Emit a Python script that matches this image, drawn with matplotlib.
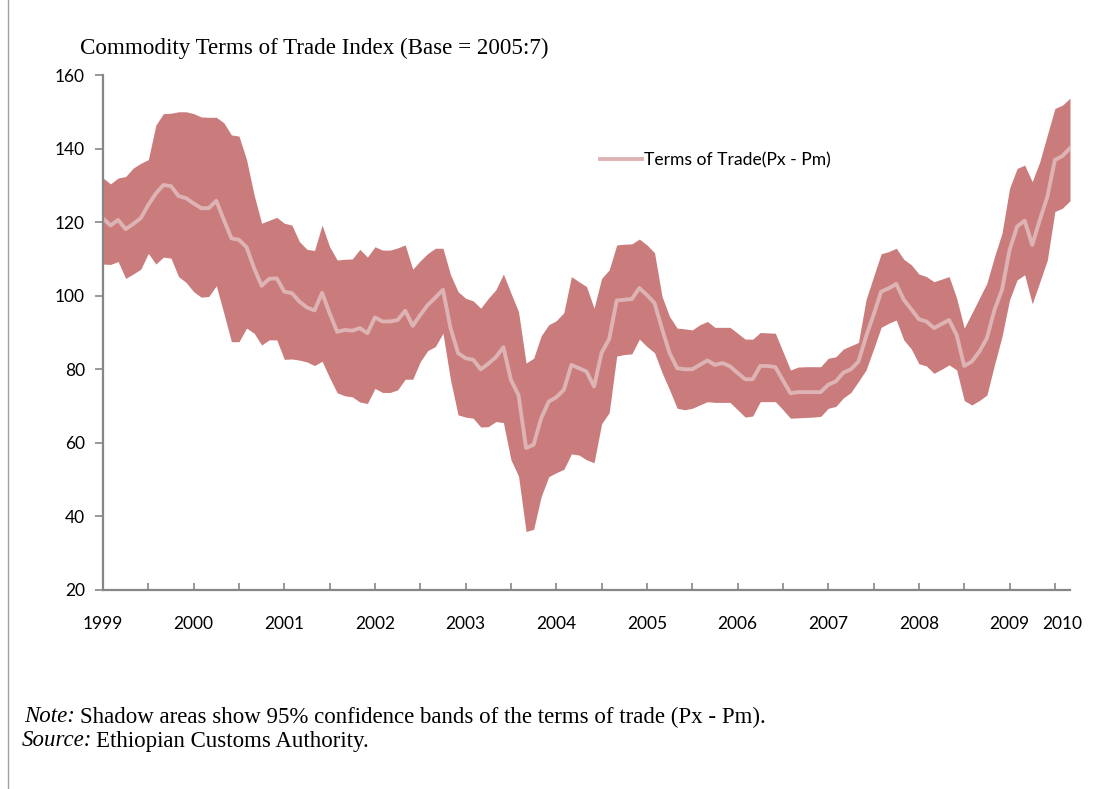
import matplotlib
matplotlib.use('Agg')
import matplotlib.pyplot as plt
from matplotlib.lines import Line2D

# monthly data, 1999:1 onwards
tot = [121.0, 119.1, 120.6, 118.1, 119.5, 121.1, 124.7, 127.8, 130.1, 129.8,
       127.1, 126.5, 125.1, 123.8, 123.8, 125.8, 120.6, 115.6, 115.2, 113.2,
       107.5, 102.7, 104.6, 104.7, 101.1, 100.7, 98.4, 96.8, 96.0, 100.8,
       95.2, 90.2, 90.7, 90.5, 91.2, 89.8, 94.1, 93.0, 93.0, 93.4,
       95.9, 91.8, 94.8, 97.5, 99.5, 101.6, 91.2, 84.4, 83.0, 82.6,
       80.0, 81.5, 83.3, 86.0, 77.1, 73.0, 58.6, 59.5, 66.7, 71.2,
       72.4, 74.4, 81.2, 80.3, 79.4, 75.3, 84.5, 88.2, 98.7, 98.9,
       99.1, 102.1, 100.2, 98.0, 91.0, 84.4, 80.3, 80.0, 80.0, 81.2,
       82.4, 81.2, 81.7, 80.8, 79.0, 77.3, 77.3, 80.9, 80.9, 80.6,
       77.0, 73.5, 73.8, 73.8, 73.8, 73.8, 75.8, 76.7, 79.1, 80.0,
       82.1, 88.9, 94.8, 101.1, 102.0, 103.2, 98.9, 96.3, 93.6, 93.0,
       91.2, 92.3, 93.4, 89.3, 80.9, 82.1, 84.8, 88.5, 96.1, 101.6,
       112.4, 118.8, 120.4, 113.8, 120.6, 126.9, 136.9, 138.0, 140.1]

upper = [132.0, 130.4, 132.0, 132.4, 134.7, 136.0, 137.0, 146.4, 149.5, 149.6,
         150.0, 150.0, 149.5, 148.6, 148.5, 148.5, 147.0, 143.7, 143.4, 137.0,
         127.4, 119.7, 120.5, 121.3, 119.7, 119.2, 114.7, 112.6, 112.3, 119.2,
         113.3, 109.7, 109.9, 110.0, 112.6, 110.5, 113.3, 112.4, 112.4, 113.0,
         113.8, 107.2, 109.5, 111.5, 112.9, 112.9, 105.7, 101.1, 99.3, 98.6,
         96.6, 99.3, 101.6, 105.9, 100.7, 95.7, 81.7, 83.0, 89.1, 92.1,
         93.2, 95.4, 105.2, 103.8, 102.5, 96.6, 104.7, 107.0, 113.8, 114.0,
         114.1, 115.4, 113.8, 111.7, 99.8, 94.3, 91.2, 91.0, 90.7, 92.1,
         93.0, 91.4, 91.4, 91.4, 89.8, 88.2, 88.2, 90.0, 89.9, 89.8,
         84.8, 79.8, 80.6, 80.7, 80.7, 80.7, 83.0, 83.4, 85.5, 86.4,
         87.3, 98.9, 105.2, 111.4, 112.0, 112.9, 109.9, 108.4, 105.9, 105.2,
         103.8, 104.5, 105.2, 99.3, 91.2, 95.2, 99.3, 103.4, 110.6, 117.0,
         129.2, 134.6, 135.5, 131.0, 136.4, 143.7, 150.9, 151.8, 153.7]

lower = [108.6, 108.5, 109.3, 104.7, 105.9, 107.2, 111.5, 108.6, 110.5, 110.2,
         105.2, 103.6, 101.1, 99.6, 99.8, 102.7, 95.2, 87.5, 87.5, 91.2,
         89.8, 86.6, 88.0, 88.0, 82.7, 82.8, 82.5, 82.0, 81.0, 82.2,
         77.7, 73.6, 72.8, 72.5, 71.1, 70.7, 74.8, 73.7, 73.7, 74.4,
         77.3, 77.3, 82.1, 85.1, 86.2, 89.8, 77.1, 67.6, 67.0, 66.7,
         64.3, 64.4, 65.8, 65.5, 55.4, 51.0, 35.9, 36.5, 45.4, 50.8,
         51.9, 52.8, 57.0, 56.7, 55.4, 54.6, 65.2, 68.2, 83.6, 84.0,
         84.2, 88.2, 86.2, 84.5, 79.1, 74.4, 69.4, 69.0, 69.4, 70.3,
         71.2, 71.0, 71.0, 71.0, 69.0, 67.0, 67.3, 71.2, 71.2, 71.2,
         69.0, 66.7, 66.8, 66.9, 67.0, 67.2, 69.4, 69.9, 72.2, 73.7,
         76.7, 79.8, 85.5, 91.4, 92.5, 93.4, 88.0, 85.5, 81.5, 80.9,
         78.9, 80.0, 81.2, 79.8, 71.5, 70.3, 71.5, 73.0, 81.2, 88.9,
         98.9, 104.3, 105.7, 97.8, 103.7, 109.7, 122.9, 123.8, 125.8]

years = ['1999', '2000', '2001', '2002', '2003', '2004', '2005',
         '2006', '2007', '2008', '2009', '2010']
year_pos = [0, 12, 24, 36, 48, 60, 72, 84, 96, 108, 120, 127]

band_col = '#C97C7B'
line_col = '#DDB3B3'
axis_col = '#868686'
lbl_font = ['Lato', 'DejaVu Sans']
serif = 'Liberation Serif'


def main():
    fig = plt.figure(figsize=(10.99, 7.89), dpi=100)
    ax = fig.add_axes([103/1099, 1 - 590/789, 967/1099, 515/789])

    x = list(range(len(tot)))
    ax.fill_between(x, lower, upper, color=band_col, linewidth=0)
    ax.plot(x, tot, color=line_col, linewidth=2.8,
            label='Terms of Trade(Px - Pm)')

    ax.set_xlim(0, len(tot) - 1)
    ax.set_ylim(20, 160)
    ax.set_yticks(range(20, 161, 20))
    ax.xaxis.remove_overlapping_locs = False
    ax.set_xticks(range(0, len(tot), 6))
    ax.set_xticklabels([])
    ax.set_xticks(year_pos, minor=True)
    ax.set_xticklabels(years, minor=True)

    for s in ['top', 'right']:
        ax.spines[s].set_visible(False)
    for s in ['left', 'bottom']:
        ax.spines[s].set_color(axis_col)
        ax.spines[s].set_linewidth(1.6)

    ax.tick_params(axis='y', direction='out', length=6, width=1.2,
                   color=axis_col, pad=7, labelsize=12.5)
    ax.tick_params(axis='x', which='major', direction='in', length=5,
                   width=1.2, color=axis_col)
    ax.tick_params(axis='x', which='minor', length=0, pad=19, labelsize=12.5)
    for t in ax.get_yticklabels() + ax.get_xticklabels(minor=True):
        t.set_family(lbl_font)

    ax.legend(loc='center left', bbox_to_anchor=(0.498, 0.835),
              frameon=False, handlelength=2.4, handletextpad=0.1,
              prop={'family': lbl_font, 'size': 12.6})

    fig.text(80/1099, 1 - 48/789, 'Commodity Terms of Trade Index (Base = 2005:7)',
             family=serif, fontsize=16.6, va='center', ha='left')

    fig.text(24/1099, 1 - 717/789, 'Note:', family=serif, style='italic',
             fontsize=16.5, va='center')
    fig.text(80/1099, 1 - 717/789,
             'Shadow areas show 95% confidence bands of the terms of trade (Px - Pm).',
             family=serif, fontsize=16.5, va='center')
    fig.text(22/1099, 1 - 741/789, 'Source:', family=serif, style='italic',
             fontsize=16.5, va='center')
    fig.text(96/1099, 1 - 741/789, 'Ethiopian Customs Authority.',
             family=serif, fontsize=16.5, va='center')

    fig.add_artist(Line2D([8/1099, 8/1099], [0, 1], color='#A0A0A0',
                          linewidth=1.0))

    plt.savefig('out.png', dpi=100)


if __name__ == '__main__':
    main()
